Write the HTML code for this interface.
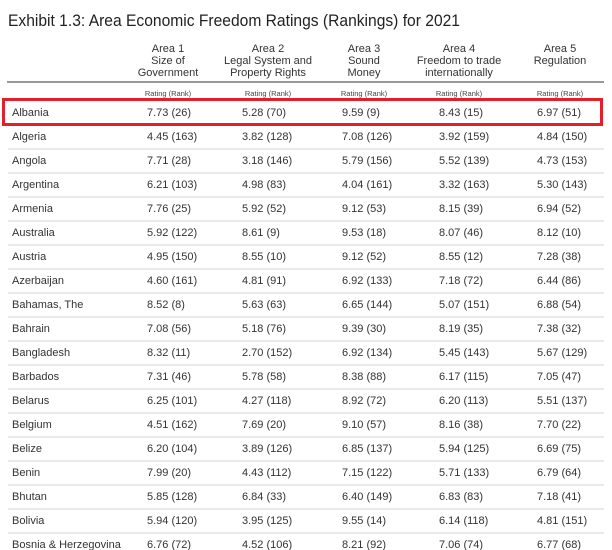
<!DOCTYPE html>
<html><head><meta charset="utf-8"><style>
body{margin:0;background:#fff}
svg{display:block;font-family:"Liberation Sans",sans-serif}
</style></head><body>
<svg width="612" height="550" viewBox="0 0 612 550">
<text x="8" y="26" font-size="16.5" fill="#222" textLength="452" lengthAdjust="spacingAndGlyphs">Exhibit 1.3: Area Economic Freedom Ratings (Rankings) for 2021</text>
<g font-size="11" fill="#333" text-anchor="middle">
<text x="168" y="52">Area 1</text><text x="168" y="64">Size of</text><text x="168" y="76">Government</text>
<text x="268" y="52">Area 2</text><text x="268" y="64">Legal System and</text><text x="268" y="76">Property Rights</text>
<text x="364" y="52">Area 3</text><text x="364" y="64">Sound</text><text x="364" y="76">Money</text>
<text x="459" y="52">Area 4</text><text x="459" y="64">Freedom to trade</text><text x="459" y="76">internationally</text>
<text x="560" y="52">Area 5</text><text x="560" y="64">Regulation</text>
</g>
<rect x="7" y="81" width="597" height="2" fill="#999"/>
<g font-size="7.5" fill="#444" text-anchor="middle">
<text x="168" y="96">Rating  (Rank)</text><text x="268" y="96">Rating  (Rank)</text><text x="364" y="96">Rating  (Rank)</text><text x="459" y="96">Rating  (Rank)</text><text x="560" y="96">Rating  (Rank)</text>
</g>
<g id="rows" font-size="11" fill="#333"></g>
<rect x="3.5" y="99.5" width="598" height="25" fill="none" stroke="#e41f2a" stroke-width="3"/>
</svg>
<script>
var d=[["Albania","7.73 (26)","5.28 (70)","9.59 (9)","8.43 (15)","6.97 (51)"],
["Algeria","4.45 (163)","3.82 (128)","7.08 (126)","3.92 (159)","4.84 (150)"],
["Angola","7.71 (28)","3.18 (146)","5.79 (156)","5.52 (139)","4.73 (153)"],
["Argentina","6.21 (103)","4.98 (83)","4.04 (161)","3.32 (163)","5.30 (143)"],
["Armenia","7.76 (25)","5.92 (52)","9.12 (53)","8.15 (39)","6.94 (52)"],
["Australia","5.92 (122)","8.61 (9)","9.53 (18)","8.07 (46)","8.12 (10)"],
["Austria","4.95 (150)","8.55 (10)","9.12 (52)","8.55 (12)","7.28 (38)"],
["Azerbaijan","4.60 (161)","4.81 (91)","6.92 (133)","7.18 (72)","6.44 (86)"],
["Bahamas, The","8.52 (8)","5.63 (63)","6.65 (144)","5.07 (151)","6.88 (54)"],
["Bahrain","7.08 (56)","5.18 (76)","9.39 (30)","8.19 (35)","7.38 (32)"],
["Bangladesh","8.32 (11)","2.70 (152)","6.92 (134)","5.45 (143)","5.67 (129)"],
["Barbados","7.31 (46)","5.78 (58)","8.38 (88)","6.17 (115)","7.05 (47)"],
["Belarus","6.25 (101)","4.27 (118)","8.92 (72)","6.20 (113)","5.51 (137)"],
["Belgium","4.51 (162)","7.69 (20)","9.10 (57)","8.16 (38)","7.70 (22)"],
["Belize","6.20 (104)","3.89 (126)","6.85 (137)","5.94 (125)","6.69 (75)"],
["Benin","7.99 (20)","4.43 (112)","7.15 (122)","5.71 (133)","6.79 (64)"],
["Bhutan","5.85 (128)","6.84 (33)","6.40 (149)","6.83 (83)","7.18 (41)"],
["Bolivia","5.94 (120)","3.95 (125)","9.55 (14)","6.14 (118)","4.81 (151)"],
["Bosnia & Herzegovina","6.76 (72)","4.52 (106)","8.21 (92)","7.06 (74)","6.77 (68)"]];
var xs=[12,147,242,342,439,537],g=document.getElementById('rows'),h='';
d.forEach(function(r,i){var y=116+i*24;
r.forEach(function(c,j){h+='<text x="'+xs[j]+'" y="'+y+'">'+c.replace('&','&amp;')+'</text>';});
if(i>0&&i<18)h+='<rect x="8" y="'+(124.5+i*24)+'" width="596" height="1" fill="#d4d4d4"/>';});
g.innerHTML=h;
</script>
</body></html>
